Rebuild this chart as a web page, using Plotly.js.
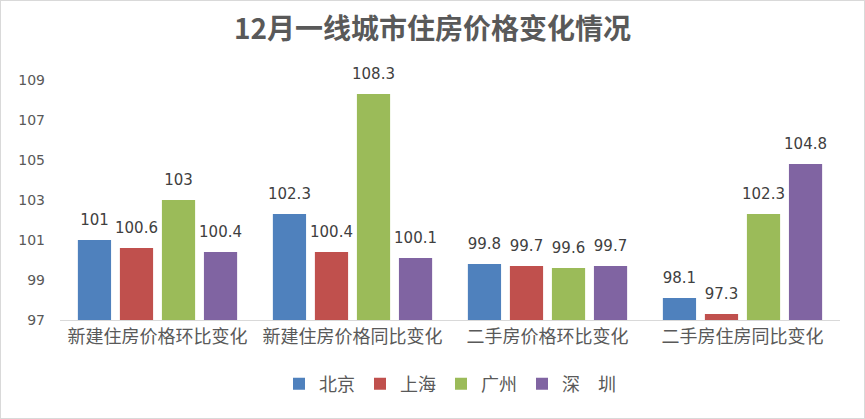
<!DOCTYPE html>
<html><head><meta charset="utf-8">
<script src="https://cdn.plot.ly/plotly-3.0.1.min.js"></script>
<style>html,body{margin:0;padding:0;background:#fff}#c{width:863px;height:417px;border:1px solid #d9d9d9}</style>
</head><body><div id="c"></div>
<script>
const categories = ["新建住房价格环比变化","新建住房价格同比变化","二手房价格环比变化","二手房住房同比变化"];
const seriesNames = ["北京","上海","广州","深　圳"];
const beijing = [101, 102.3, 99.8, 98.1];
const shanghai = [100.6, 100.4, 99.7, 97.3];
const guangzhou = [103, 108.3, 99.6, 102.3];
const shenzhen = [100.4, 100.1, 99.7, 104.8];
const colors = ["#4F81BD","#C0504D","#9BBB59","#8064A2"];
const base = 97;
const allSeries = [beijing, shanghai, guangzhou, shenzhen];
const bars = allSeries.map((vals,i)=>({
  type:'bar', name:seriesNames[i], x:categories,
  y:vals.map(v=>v-base), base:base, offsetgroup:String(i),
  marker:{color:colors[i]}, hoverinfo:'skip'
}));
const labels = allSeries.map((vals,i)=>({
  type:'scatter', mode:'markers+text', x:categories, y:vals, offsetgroup:String(i),
  text:vals.map(v=>String(v)), textposition:'top center', cliponaxis:false,
  textfont:{family:'DejaVu Sans, sans-serif', size:15, color:'#404040'},
  marker:{size:16, opacity:0}, showlegend:false, hoverinfo:'skip'
}));
const layout = {
  width:863, height:417, paper_bgcolor:'#fff', plot_bgcolor:'#fff',
  margin:{l:59,r:24,t:59,b:98},
  title:{text:'<b>12月一线城市住房价格变化情况</b>', x:0.5, xanchor:'center', y:0.955, yanchor:'top',
    font:{family:'Noto Sans CJK SC, sans-serif', size:28, color:'#595959'}},
  barmode:'group', bargap:0.138, bargroupgap:0.21,
  scattermode:'group', scattergap:0.138,
  xaxis:{showline:true, linecolor:'#d9d9d9', ticks:'', tickfont:{family:'Noto Sans CJK SC, sans-serif', size:18, color:'#595959'}},
  yaxis:{range:[97,110], tickvals:[97,99,101,103,105,107,109], showgrid:false, zeroline:false,
    tickfont:{family:'DejaVu Sans, sans-serif', size:14, color:'#595959'}, ticks:'', ticklabelstandoff:14},
  legend:{orientation:'h', x:0.5, xanchor:'center', y:-0.175, yanchor:'top',
    font:{family:'Noto Sans CJK SC, sans-serif', size:18, color:'#595959'}, itemwidth:30, traceorder:'normal'},
  showlegend:true
};
Plotly.newPlot('c', bars.concat(labels), layout, {displayModeBar:false, staticPlot:true});
</script></body></html>
